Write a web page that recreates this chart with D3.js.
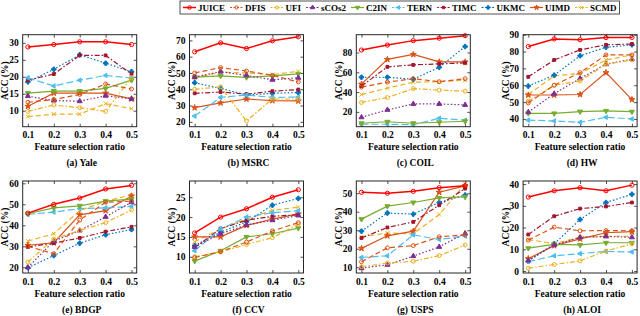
<!DOCTYPE html>
<html>
<head>
<meta charset="utf-8">
<script src="https://cdn.jsdelivr.net/npm/d3@7"></script>
<style>
  body { margin: 0; background: #fff; }
  svg text { font-family: 'Liberation Serif', 'Times New Roman', serif; font-weight: bold; fill: #000; }
</style>
</head>
<body>
<svg id="chart" width="640" height="316"></svg>
<script>
// data (ACC %), method order as in the legend
const ratios = [0.1, 0.2, 0.3, 0.4, 0.5]
const methods = ['JUICE', 'DFIS', 'UFI', 'sCOs2', 'C2IN', 'TERN', 'TIMC', 'UKMC', 'UIMD', 'SCMD']
const captions = ['(a) Yale', '(b) MSRC', '(c) COIL', '(d) HW', '(e) BDGP', '(f) CCV', '(g) USPS', '(h) ALOI']

const yale = [
  [28.8, 29.5, 30.3, 30.3, 29.5],
  [12.5, 13.3, 14.8, 17.9, 16.4],
  [9.8, 11.7, 10.9, 9.8, 19.8],
  [14.3, 13.0, 12.8, 14.4, 13.5],
  [15.2, 15.8, 15.8, 16.6, 19.0],
  [19.7, 17.3, 19.0, 20.4, 19.6],
  [19.0, 20.8, 26.3, 26.3, 20.8],
  [18.5, 22.2, 26.5, 24.0, 21.5],
  [11.3, 15.2, 15.2, 15.2, 13.5],
  [8.3, 9.0, 9.0, 12.1, 10.6]
]
const msrc = [
  [63.0, 68.5, 65.0, 69.8, 72.2],
  [50.0, 53.3, 51.2, 48.5, 44.5],
  [40.0, 41.5, 20.5, 34.0, 34.0],
  [47.5, 50.8, 48.5, 45.8, 47.0],
  [47.5, 48.2, 47.3, 48.2, 49.5],
  [23.5, 35.0, 36.5, 35.0, 35.2],
  [37.5, 38.3, 37.0, 38.8, 39.8],
  [44.0, 40.5, 36.5, 37.5, 38.0],
  [28.7, 31.6, 34.0, 33.0, 32.8],
  [47.0, 50.5, 50.0, 49.0, 51.0]
]
const coil = [
  [82.5, 87.5, 92.0, 94.5, 97.0],
  [45.0, 50.0, 53.5, 50.5, 53.5],
  [29.5, 34.5, 43.5, 42.0, 41.0],
  [14.5, 22.0, 28.0, 28.0, 27.0],
  [8.5, 10.0, 8.5, 9.5, 10.5],
  [7.5, 7.5, 7.0, 13.5, 11.5],
  [46.0, 65.5, 67.5, 68.5, 69.5],
  [55.0, 55.0, 53.0, 65.0, 86.0],
  [48.0, 73.0, 78.0, 70.5, 70.5],
  [37.5, 44.0, 50.0, 50.5, 52.0]
]
const hw = [
  [83.0, 87.5, 87.0, 88.3, 88.4],
  [49.5, 60.0, 67.5, 78.0, 78.0],
  [50.5, 60.0, 62.5, 72.5, 75.0],
  [44.0, 55.0, 64.0, 72.5, 75.5],
  [43.3, 43.3, 44.4, 44.8, 44.3],
  [39.3, 38.8, 38.0, 41.0, 40.0],
  [65.0, 75.0, 81.0, 84.0, 84.5],
  [59.5, 66.0, 77.5, 82.5, 84.0],
  [54.2, 54.2, 54.5, 67.5, 51.5],
  [54.5, 65.5, 67.0, 75.0, 78.0]
]
const bdgp = [
  [45.8, 50.0, 53.0, 57.3, 59.0],
  [30.0, 26.5, 42.5, 51.0, 51.5],
  [22.5, 33.5, 37.5, 41.3, 47.3],
  [20.0, 32.5, 37.5, 44.0, 51.0],
  [45.5, 48.3, 49.3, 51.5, 52.5],
  [45.2, 46.3, 48.0, 48.3, 49.0],
  [29.7, 31.5, 34.0, 37.0, 39.3],
  [19.8, 25.6, 31.5, 35.5, 38.0],
  [30.5, 31.7, 45.0, 47.0, 54.0],
  [32.5, 36.0, 47.0, 51.5, 54.5]
]
const ccv = [
  [16.0, 20.0, 22.1, 25.0, 26.9],
  [9.8, 11.3, 13.7, 16.5, 18.6],
  [10.0, 11.2, 13.1, 14.8, 18.2],
  [12.5, 15.8, 18.0, 19.2, 20.4],
  [8.9, 11.5, 15.0, 15.8, 17.2],
  [11.5, 17.0, 20.0, 21.1, 21.6],
  [12.3, 17.1, 19.2, 20.2, 20.6],
  [12.8, 16.2, 18.8, 23.0, 24.7],
  [15.0, 15.0, 17.9, 19.5, 20.8],
  [13.8, 17.0, 19.5, 21.7, 22.5]
]
const usps = [
  [50.5, 50.0, 51.0, 53.0, 54.0],
  [13.0, 20.5, 21.7, 26.5, 27.5],
  [10.3, 12.3, 13.2, 16.3, 22.0],
  [9.5, 11.3, 16.0, 21.0, 28.3],
  [36.0, 43.0, 45.0, 47.5, 48.0],
  [15.3, 16.2, 27.5, 25.0, 26.8],
  [25.8, 31.5, 34.5, 43.5, 52.5],
  [29.5, 39.3, 38.7, 45.0, 49.0],
  [20.2, 27.0, 29.5, 50.5, 54.0],
  [26.5, 28.5, 28.0, 38.5, 55.0]
]
const aloi = [
  [34.0, 36.9, 38.3, 36.9, 39.5],
  [14.2, 20.2, 18.5, 18.6, 18.5],
  [1.3, 3.0, 4.7, 9.2, 12.5],
  [4.8, 12.0, 15.5, 15.9, 15.5],
  [10.5, 12.3, 12.0, 13.0, 13.0],
  [4.3, 7.0, 8.0, 9.0, 8.8],
  [16.8, 25.2, 28.7, 29.7, 31.5],
  [4.5, 12.5, 23.7, 31.5, 35.3],
  [5.7, 11.7, 14.8, 17.6, 18.1],
  [14.5, 12.6, 15.5, 16.0, 16.0]
]
const allData = [yale, msrc, coil, hw, bdgp, ccv, usps, aloi]

const yDomains = [[5.3, 32.4], [17, 73.5], [5, 98], [35.4, 90], [17.3, 61.1], [5.9, 29.1], [6.9, 56.6], [-0.9, 41.4]]
const yTicks = [
  [10, 15, 20, 25, 30],
  [20, 30, 40, 50, 60, 70],
  [20, 40, 60, 80],
  [40, 50, 60, 70, 80, 90],
  [20, 30, 40, 50, 60],
  [10, 15, 20, 25],
  [10, 20, 30, 40, 50],
  [0, 10, 20, 30, 40]
]

// line / marker look per method
const symTimes = d3.symbolTimes || d3.symbolCross
const styles = [
  { color: '#FF0000', dash: null, sym: d3.symbolCircle, open: true, w: 1.5, size: 14 },
  { color: '#D95319', dash: '5,3', sym: d3.symbolCircle, open: true, w: 1.2, size: 12 },
  { color: '#EDB120', dash: '5,2,1.5,2', sym: d3.symbolCircle, open: true, w: 1.2, size: 12 },
  { color: '#7E2F8E', dash: '1.5,2', sym: d3.symbolTriangle, open: false, w: 1.2, size: 11 },
  { color: '#77AC30', dash: null, sym: d3.symbolTriangle, open: false, w: 1.2, size: 11, rot: 180 },
  { color: '#4DBEEE', dash: '7,3', sym: d3.symbolTriangle, open: false, w: 1.2, size: 9, rot: -90 },
  { color: '#A2142F', dash: '5,2,1.5,2', sym: d3.symbolSquare, open: false, w: 1.2, size: 8 },
  { color: '#0072BD', dash: '1.5,2', sym: d3.symbolCross, open: false, w: 1.2, size: 11 },
  { color: '#D95319', dash: null, sym: d3.symbolStar, open: false, w: 1.2, size: 11 },
  { color: '#EDB120', dash: '5,3', sym: symTimes, open: true, w: 1.2, size: 12 }
]

const svg = d3.select('#chart')

const panelW = 114
const panelH = 92
const colX = [22.7, 189.5, 356.3, 523.1]
const rowY = [34.7, 181]

function drawMarker(sel, s) {
  sel.attr('d', d3.symbol().type(s.sym).size(s.size))
    .attr('fill', s.open ? 'none' : s.color)
    .attr('stroke', s.color)
    .attr('stroke-width', 1)
}

allData.forEach(function(series, i) {
  let g = svg.append('g')
    .attr('transform', 'translate(' + colX[i % 4] + ',' + rowY[Math.floor(i / 4)] + ')')

  let x = d3.scaleLinear().domain([0.08, 0.52]).range([0, panelW])
  let y = d3.scaleLinear().domain(yDomains[i]).range([panelH, 0])

  // axes, ticks pointing inward on all four sides
  g.append('g')
    .attr('transform', 'translate(0,' + panelH + ')')
    .call(d3.axisBottom(x).tickValues(ratios).tickFormat(d3.format('.1f'))
      .tickSizeInner(-3).tickSizeOuter(0).tickPadding(5))
  g.append('g')
    .call(d3.axisTop(x).tickValues(ratios).tickFormat('')
      .tickSizeInner(-3).tickSizeOuter(0))
  g.append('g')
    .call(d3.axisLeft(y).tickValues(yTicks[i])
      .tickSizeInner(-3).tickSizeOuter(0).tickPadding(4))
  g.append('g')
    .attr('transform', 'translate(' + panelW + ',0)')
    .call(d3.axisRight(y).tickValues(yTicks[i]).tickFormat('')
      .tickSizeInner(-3).tickSizeOuter(0))

  g.selectAll('.domain').remove()
  g.selectAll('.tick line').attr('stroke', '#262626').attr('stroke-width', 0.8)
  g.selectAll('.tick text')
    .style('font-size', '9.5px')
    .style('font-family', "'Liberation Serif', serif")
    .style('font-weight', 'bold')
    .attr('fill', '#000')

  let line = d3.line()
    .x(function(d, k) { return x(ratios[k]) })
    .y(function(d) { return y(d) })

  // draw in reverse so JUICE ends on top
  d3.range(methods.length).reverse().forEach(function(m) {
    let s = styles[m]
    g.append('path')
      .datum(series[m])
      .attr('d', line)
      .attr('fill', 'none')
      .attr('stroke', s.color)
      .attr('stroke-width', s.w)
      .attr('stroke-dasharray', s.dash)

    g.selectAll('.mk' + m)
      .data(series[m])
      .enter()
      .append('path')
      .attr('class', 'mk' + m)
      .attr('transform', function(d, k) {
        return 'translate(' + x(ratios[k]) + ',' + y(d) + ')' + (s.rot ? ' rotate(' + s.rot + ')' : '')
      })
      .call(drawMarker, s)
  })

  g.append('rect')
    .attr('width', panelW)
    .attr('height', panelH)
    .attr('fill', 'none')
    .attr('stroke', '#262626')
    .attr('stroke-width', 1)

  g.append('text')
    .attr('transform', 'translate(-17.5,' + panelH / 2 + ') rotate(-90)')
    .attr('text-anchor', 'middle')
    .attr('dominant-baseline', 'central')
    .style('font-size', '9.5px')
    .text('ACC (%)')

  g.append('text')
    .attr('x', panelW / 2)
    .attr('y', panelH + 23.5)
    .attr('text-anchor', 'middle')
    .style('font-size', '9.5px')
    .text('Feature selection ratio')

  g.append('text')
    .attr('x', panelW / 2 + 2)
    .attr('y', panelH + 39.5)
    .attr('text-anchor', 'middle')
    .style('font-size', '9.5px')
    .text(captions[i])
})

// legend across the top
let legend = svg.append('g').attr('transform', 'translate(180,1)')
let lx = 3
methods.forEach(function(name, m) {
  let s = styles[m]
  let item = legend.append('g').attr('transform', 'translate(' + lx + ',0)')
  item.append('line')
    .attr('x1', 0).attr('x2', 13)
    .attr('y1', 6.5).attr('y2', 6.5)
    .attr('stroke', s.color)
    .attr('stroke-width', s.w)
    .attr('stroke-dasharray', s.dash ? '2,1.5' : null)
  item.append('path')
    .attr('transform', 'translate(6.5,6.5)' + (s.rot ? ' rotate(' + s.rot + ')' : ''))
    .call(drawMarker, Object.assign({}, s, { size: s.size * 0.7 }))
  let t = item.append('text')
    .attr('x', 15)
    .attr('y', 9.8)
    .style('font-size', '9px')
    .text(name)
  lx += 15 + t.node().getComputedTextLength() + 5
})
legend.insert('rect', ':first-child')
  .attr('x', 0).attr('y', 0)
  .attr('width', lx - 2)
  .attr('height', 13)
  .attr('fill', '#fff')
  .attr('stroke', '#262626')
  .attr('stroke-width', 0.8)
</script>
</body>
</html>
